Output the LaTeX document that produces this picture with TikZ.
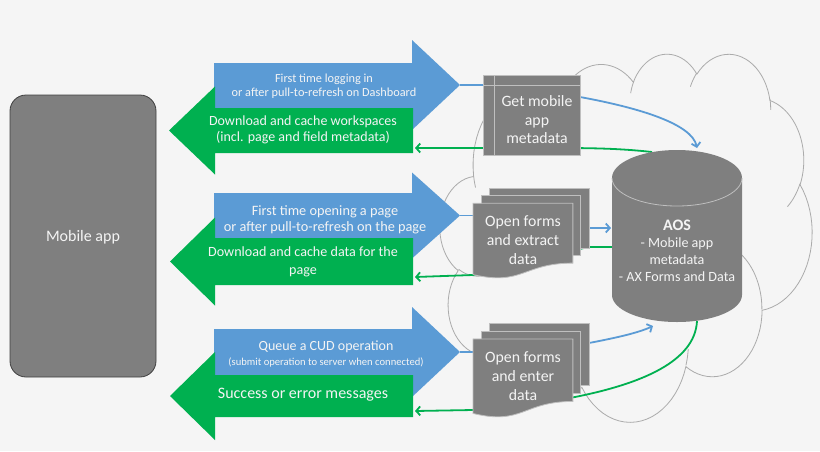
\documentclass[tikz,border=0pt]{standalone}
\usepackage{fontspec}
\setmainfont{Carlito}
\usetikzlibrary{arrows.meta}
\definecolor{bg}{HTML}{F5F5F5}
\definecolor{ablue}{HTML}{5B9BD5}
\definecolor{agreen}{HTML}{00B050}
\definecolor{boxgray}{HTML}{7F7F7F}
\definecolor{boxedge}{HTML}{BFBFBF}
\definecolor{cloudgray}{HTML}{ABABAB}
\definecolor{appedge}{HTML}{404040}
\definecolor{txtw}{HTML}{F4F4F4}

% cloud arc helpers (OOXML arcTo -> sampled plot)
\newcommand\cldstart[2]{\xdef\cldx{#1}\xdef\cldy{#2}}
\newcommand\cldarc[4]{%
  \pgfmathsetmacro\cldts{atan2((#1)*sin(#3),(#2)*cos(#3))}%
  \pgfmathsetmacro\cldte{atan2((#1)*sin(#3+#4),(#2)*cos(#3+#4))}%
  \pgfmathsetmacro\cldd{\cldte-\cldts}%
  \pgfmathsetmacro\cldd{(((#4)>0) && (\cldd<0)) ? (\cldd+360) : ((((#4)<0) && (\cldd>0)) ? (\cldd-360) : \cldd)}%
  \pgfmathsetmacro\cldcx{\cldx-(#1)*cos(\cldts)}%
  \pgfmathsetmacro\cldcy{\cldy-(#2)*sin(\cldts)}%
  \pgfmathsetmacro\cldtend{\cldts+\cldd}%
  \xdef\cldseg{plot[domain=\cldts:\cldtend,samples=24,variable=\noexpand\t]({\cldcx+(#1)*cos(\noexpand\t)},{\cldcy+(#2)*sin(\noexpand\t)})}%
  \pgfmathsetmacro\cldnx{\cldcx+(#1)*cos(\cldtend)}%
  \pgfmathsetmacro\cldny{\cldcy+(#2)*sin(\cldtend)}%
  \xdef\cldx{\cldnx}\xdef\cldy{\cldny}%
}
\newcommand\cldadd{\xdef\cldpath{\unexpanded\expandafter{\cldpath} -- \unexpanded\expandafter{\cldseg}}}
\newcommand\cldtail[6]{\cldstart{#1}{#2}\cldarc{#3}{#4}{#5}{#6}\draw[cloudline] \cldseg;}

\begin{document}
\begin{tikzpicture}[x=1pt,y=-1pt,
  cloudline/.style={draw=cloudgray,line width=0.8pt},
  bline/.style={draw=ablue,line width=1.8pt},
  blinea/.style={bline,-{Straight Barb[length=4pt,width=9pt]}},
  gline/.style={draw=agreen,line width=1.8pt},
  glinea/.style={gline,-{Straight Barb[length=4pt,width=9pt]}},
  shapebox/.style={fill=boxgray,draw=boxedge,line width=0.8pt},
  txt/.style={text=txtw,align=center,inner sep=0pt},
  fc/.style={font=\fontsize{15.8}{19}\selectfont},
]
\fill[bg] (0,0) rectangle (820,451);
\useasboundingbox (0,0) rectangle (820,451);

% ---------- cloud ----------
\begin{scope}[shift={(440,53)},x=3.72pt,y=-3.68pt]
  \cldstart{9.028}{33.264}
  \gdef\cldpath{(9.028,33.264)}
  \cldarc{15.632}{21.273}{-190.487}{123.781}\cldadd
  \cldarc{12.345}{16.822}{-144.102}{89.945}\cldadd
  \cldarc{10.104}{13.762}{-145.808}{99.723}\cldadd
  \cldarc{11.243}{15.266}{-130.986}{117.242}\cldadd
  \cldarc{12.345}{16.836}{-78.709}{109.027}\cldadd
  \cldarc{15.683}{21.343}{-46.267}{130.269}\cldadd
  \cldarc{13.391}{18.211}{0.625}{114.033}\cldadd
  \cldarc{15.630}{21.331}{22.452}{115.173}\cldadd
  \cldarc{17.870}{24.405}{66.243}{75.711}\cldadd
  \cldarc{10.093}{13.699}{-274.942}{146.736}\cldadd
  \cldarc{10.058}{13.762}{-246.829}{152.519}\cldadd
  \draw[cloudline] \cldpath -- cycle;
  \cldtail{10.863}{60.595}{10.058}{13.762}{86.742}{26.430}
  \cldtail{16.037}{80.785}{10.093}{13.699}{73.610}{11.447}
  \cldtail{38.144}{90.486}{15.630}{21.331}{137.624}{14.081}
  \cldtail{66.729}{80.442}{15.630}{21.331}{6.453}{15.998}
  \cldtail{79.002}{53.134}{13.391}{18.211}{-70.292}{70.917}
  \cldtail{96.755}{35.542}{12.345}{16.836}{30.318}{27.752}
  \cldtail{88.713}{12.560}{11.243}{15.266}{-13.744}{14.859}
  \cldtail{67.310}{9.148}{11.243}{15.266}{-149.181}{18.195}
  \cldtail{51.252}{10.926}{10.104}{13.762}{-163.494}{17.686}
  \cldtail{32.407}{12.019}{15.632}{21.273}{-66.707}{12.319}
  \cldtail{9.553}{36.549}{15.632}{21.273}{157.654}{11.858}
\end{scope}

% ---------- named points ----------
\coordinate (b1tip) at (460,85);
\coordinate (b2tip) at (460,215.5);
\coordinate (b3tip) at (460,352);
\coordinate (g1end) at (415,148);
\coordinate (g2end) at (415,277);
\coordinate (g3end) at (415,411);
\coordinate (gmW) at (483,85);
\coordinate (gmE) at (580,97);
\coordinate (gmG) at (560,148);
\coordinate (d2W) at (473,215.5);
\coordinate (d2E) at (589,228);
\coordinate (d2G) at (588,247);
\coordinate (d2GL) at (473,275);
\coordinate (d3W) at (473,352);
\coordinate (d3E) at (589,343);
\coordinate (d3GL) at (473,410);
\coordinate (aosT) at (697,148);
\coordinate (aosTG) at (652,152);
\coordinate (aosL) at (611,228);
\coordinate (aosLG) at (612,247);
\coordinate (aosB) at (653,326);
\coordinate (aosBG) at (697,321);

% ---------- connectors ----------
\draw[bline] (b1tip) -- (gmW);
\draw[blinea] (gmE) .. controls (640,108) and (692,124) .. (aosT);
\draw[glinea] (aosTG) .. controls (625,149) and (600,148) .. (gmG) -- (g1end);
\draw[bline] (b2tip) -- (d2W);
\draw[blinea] (d2E) -- (aosL);
\draw[glinea] (aosLG) -- (d2G) -- (d2GL) -- (g2end);
\draw[bline] (b3tip) -- (d3W);
\draw[blinea] (d3E) .. controls (615,338) and (638,333) .. (aosB);
\draw[glinea] (aosBG) .. controls (695,362) and (640,384) .. (575,397) .. controls (530,405) and (500,409) .. (d3GL) -- (g3end);

% ---------- big arrows ----------
\fill[ablue] (214,63) -- (412,63) -- (412,40) -- (b1tip) -- (412,130) -- (412,108) -- (214,108) -- cycle;
\fill[agreen] (413,108) -- (215,108) -- (215,86.5) -- (169,130.5) -- (215,174.5) -- (215,153) -- (413,153) -- cycle;
\fill[ablue] (214,193) -- (412,193) -- (412,172.5) -- (b2tip) -- (412,258.5) -- (412,238) -- (214,238) -- cycle;
\fill[agreen] (413,238) -- (215,238) -- (215,217.5) -- (170,261.5) -- (215,305.5) -- (215,285) -- (413,285) -- cycle;
\fill[ablue] (214,329) -- (412,329) -- (412,307) -- (b3tip) -- (412,397) -- (412,375) -- (214,375) -- cycle;
\fill[agreen] (413,375) -- (215,375) -- (215,352) -- (170,396) -- (215,440) -- (215,417) -- (413,417) -- cycle;

\node[txt,font=\fontsize{12.3}{14}\selectfont] (b1) at (324,86) {First time logging in\\or after pull-to-refresh on Dashboard};
\node[txt,font=\fontsize{14}{16}\selectfont] (g1) at (303,130) {Download and cache workspaces\\(incl. page and field metadata)};
\node[txt,font=\fontsize{14.3}{16}\selectfont] (b2) at (325,220) {First time opening a page\\or after pull-to-refresh on the page};
\node[txt,font=\fontsize{14.1}{18}\selectfont] (g2) at (303,262) {Download and cache data for the\\page};
\node[txt,font=\fontsize{14}{16}\selectfont] (b3a) at (326,347) {Queue a CUD operation};
\node[txt,font=\fontsize{10.6}{12}\selectfont] (b3b) at (326,362) {(submit operation to server when connected)};
\node[txt,font=\fontsize{16}{18}\selectfont] (g3) at (303,395) {Success or error messages};

% ---------- mobile app ----------
\draw[fill=boxgray,draw=appedge,line width=0.8pt,rounded corners=16pt] (10,95) rectangle (156,377);
\node[txt,font=\fontsize{16}{18}\selectfont] (app) at (83,237) {Mobile app};

% ---------- get mobile app metadata (internal storage) ----------
\draw[shapebox] (483,75) rectangle (580,155);
\draw[draw=boxedge,line width=0.8pt] (483,85) -- (580,85) (494,75) -- (494,155);
\node[txt,font=\fontsize{15.8}{18.5}\selectfont] (gm) at (537,120) {Get mobile\\app\\metadata};

% ---------- multi documents ----------
\foreach \top/\h in {188/0.9, 323/0.94}{
  \begin{scope}[shift={(473,\top)},x=1.16pt,y=-\h pt]
    \draw[shapebox] (13.76,0) rectangle (100,66.8);
    \draw[shapebox] (7.09,8.40) rectangle (92.59,75.4);
    \draw[shapebox] (0,96.21) .. controls (43.05,109.0) and (43.05,83.44) .. (86.09,83.44) -- (86.09,17.01) -- (0,17.01) -- cycle;
  \end{scope}
}
\node[txt,fc] (d2) at (523,240) {Open forms\\and extract\\data};
\node[txt,fc] (d3) at (523,376) {Open forms\\and enter\\data};

% ---------- AOS cylinder ----------
\fill[boxgray] (612,178) -- (612,295) arc[start angle=180,end angle=360,x radius=65pt,y radius=27pt] -- (742,178) arc[start angle=0,end angle=180,x radius=65pt,y radius=28pt] -- cycle;
\draw[draw=boxedge,line width=0.8pt] (612,178) arc[start angle=180,end angle=360,x radius=65pt,y radius=28pt];
\node[txt,font=\fontsize{14.1}{17}\selectfont] (aos) at (677,251) {{\fontsize{16}{18}\selectfont\bfseries AOS}\\- Mobile app\\metadata\\- AX Forms and Data};
\end{tikzpicture}
\end{document}
